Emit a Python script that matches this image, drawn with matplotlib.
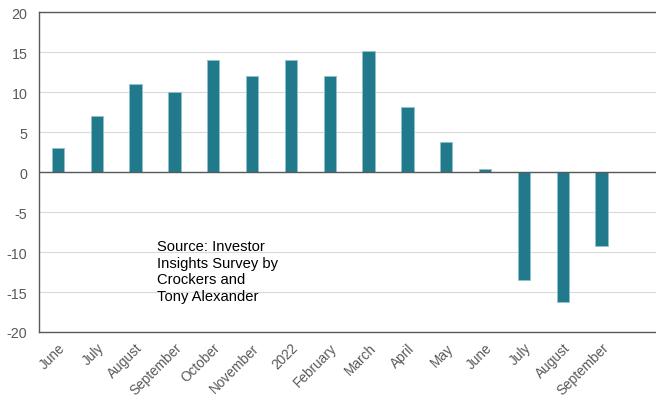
import matplotlib
matplotlib.use("Agg")
import matplotlib.pyplot as plt

categories = ["June", "July", "August", "September", "October", "November", "2022",
              "February", "March", "April", "May", "June", "July", "August", "September"]
values = [3, 7, 11, 10, 14, 12, 14, 12, 15.1, 8.1, 3.75, 0.35, -13.5, -16.3, -9.3]
yticks = [-20, -15, -10, -5, 0, 5, 10, 15, 20]

plt.rcParams['font.family'] = ['Liberation Sans', 'DejaVu Sans']

fig = plt.figure(figsize=(6.56, 4.02), dpi=100)
ax = fig.add_axes([38.5/656, 1-333/402, 1-38.5/656, (333-13.3)/402])

x = list(range(len(categories)))
ax.bar(x, values, width=0.32, color='#217A8B', edgecolor='#8FC3CE', linewidth=0.6, zorder=3)

ax.set_xlim(-0.5, 15.4)
ax.set_ylim(-20, 20)
ax.set_yticks(yticks)
ax.set_yticklabels([str(t) for t in yticks], fontsize=10.3, color='#595959')
ax.set_xticks(x)
ax.set_xticklabels(categories, rotation=45, ha='right', rotation_mode='anchor',
                   fontsize=9.8, color='#595959')
ax.tick_params(axis='y', length=0, pad=8)
ax.tick_params(axis='x', length=0, pad=6)

ax.grid(axis='y', color='#D9D9D9', linewidth=0.8, zorder=0)
ax.axhline(0, color='#595959', linewidth=1.0, zorder=4)
for side in ['left', 'top', 'bottom']:
    ax.spines[side].set_color('#595959')
    ax.spines[side].set_linewidth(1.0)
ax.spines['right'].set_visible(False)

ax.text(2.55, -8.35, "Source: Investor\nInsights Survey by\nCrockers and\nTony Alexander",
        fontsize=10.6, color='black', va='top', ha='left', linespacing=1.24)

fig.savefig("out.png", dpi=100)
